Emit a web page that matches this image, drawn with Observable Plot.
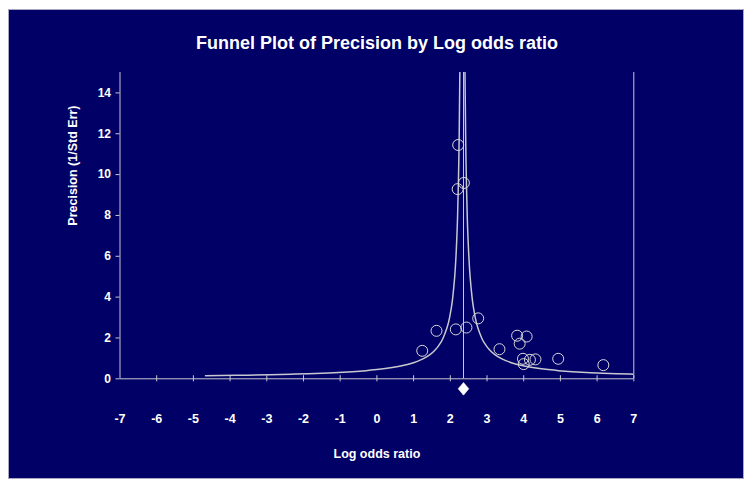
<!DOCTYPE html>
<html><head><meta charset="utf-8">
<script src="https://cdn.jsdelivr.net/npm/d3@7"></script>
<script src="https://cdn.jsdelivr.net/npm/@observablehq/plot@0.6"></script>
<style>
html,body{margin:0;padding:0;background:#fff;}
#wrap{position:relative;width:750px;height:490px;overflow:hidden;}
#bg{position:absolute;left:8px;top:9px;width:734px;height:468px;background:#000066;border:1px solid #a8a8c0;}
#chart{position:absolute;left:0;top:0;}
</style></head><body>
<div id="wrap"><div id="bg"></div><div id="chart"></div></div>
<script>
// Studies: log odds ratio and precision (1/SE)
const studyLogOR     = [2.215, 2.37, 2.20, 1.235, 1.624, 2.15, 2.44, 2.76, 3.34, 3.82, 4.08, 3.89, 3.98, 4.00, 4.17, 4.32, 4.94, 6.17];
const studyPrecision = [11.45, 9.59, 9.29, 1.37, 2.35, 2.42, 2.51, 2.96, 1.45, 2.11, 2.07, 1.72, 0.98, 0.72, 0.93, 0.95, 0.98, 0.67];
// Pooled estimate and funnel limits
const pooledLogOR = 2.36;
const funnelCenter = 2.33;
const funnelZ = 1.05;
const funnelPrecisionLevels = [0.15,0.17,0.2,0.225,0.25,0.3,0.35,0.4,0.45,0.5,0.6,0.7,0.8,0.9,1,1.2,1.4,1.6,1.8,2,2.5,3,3.5,4,5,6,7,8,10,12,15];
// Ticks
const xTicks = [-7,-6,-5,-4,-3,-2,-1,0,1,2,3,4,5,6,7];
const yTicks = [0,2,4,6,8,10,12,14];
const titleText = "Funnel Plot of Precision by Log odds ratio";
const xLabel = "Log odds ratio";
const yLabel = "Precision (1/Std Err)";

const studies = studyLogOR.map((x, i) => ({x, y: studyPrecision[i]}));
const leftFunnel = funnelPrecisionLevels.map(p => ({x: funnelCenter - funnelZ / p, y: p}));
const rightFunnel = funnelPrecisionLevels.map(p => ({x: funnelCenter + funnelZ / p, y: p}));

const lineCol = "#c8c8d0";
const font = "'Liberation Sans', Arial, sans-serif";

// rhombus symbol, slightly taller than wide
const rhombus = {
  draw(context, size) {
    const h = Math.sqrt(size) * 0.55;
    const w = h * 0.85;
    context.moveTo(0, -h);
    context.lineTo(w, 0);
    context.lineTo(0, h);
    context.lineTo(-w, 0);
    context.closePath();
  }
};

const chart = Plot.plot({
  width: 750,
  height: 490,
  marginLeft: 119.5,
  marginRight: 116.7,
  marginTop: 72,
  marginBottom: 111.7,
  style: {background: "transparent", color: "#ffffff", fontFamily: font, fontWeight: "bold", fontSize: "12px"},
  x: {domain: [-7, 7]},
  y: {domain: [0, 15]},
  marks: [
    Plot.axisY({ticks: yTicks, tickSize: 4, tickPadding: 5, stroke: lineCol, fill: "#fff", fontWeight: "bold", fontSize: 12, label: null, tickFormat: d => String(d)}),
    Plot.axisX({ticks: xTicks, tickSize: 0, tickPadding: 35, fill: "#fff", fontWeight: "bold", fontSize: 12.5, label: null, tickFormat: d => String(d)}),
    Plot.ruleX(xTicks.slice(1), {x: d => d, y1: -0.15, y2: 0.15, stroke: lineCol}),
    Plot.ruleX([-7, 7], {y1: 0, y2: 15, stroke: lineCol}),
    Plot.ruleY([0], {x1: -7, x2: 7, stroke: lineCol}),
    Plot.ruleX([pooledLogOR], {y1: 0, y2: 15, stroke: lineCol}),
    Plot.line(leftFunnel, {x: "x", y: "y", stroke: lineCol, curve: "natural", clip: true}),
    Plot.line(rightFunnel, {x: "x", y: "y", stroke: lineCol, curve: "natural", clip: true}),
    Plot.dot(studies, {x: "x", y: "y", r: 5.5, stroke: "#d8d8d8", strokeWidth: 1, fill: "none"}),
    Plot.dot([pooledLogOR], {x: d => d, y: 0, dy: 10, symbol: rhombus, r: 6.5, fill: "#ffffff", stroke: "#ffffff", strokeWidth: 0.5}),
    Plot.text([titleText], {text: d => d, frameAnchor: "top", dy: -29, fontSize: 18, fontWeight: "bold", fill: "#fff", lineAnchor: "middle"}),
    Plot.text([xLabel], {text: d => d, frameAnchor: "bottom", dy: 75, fontSize: 12.5, fontWeight: "bold", fill: "#fff", lineAnchor: "middle"}),
    Plot.text([yLabel], {text: d => d, frameAnchor: "left", dx: -47, rotate: -90, fontSize: 12.5, fontWeight: "bold", fill: "#fff", lineAnchor: "middle"})
  ]
});
document.getElementById("chart").appendChild(chart);
</script>
</body></html>
